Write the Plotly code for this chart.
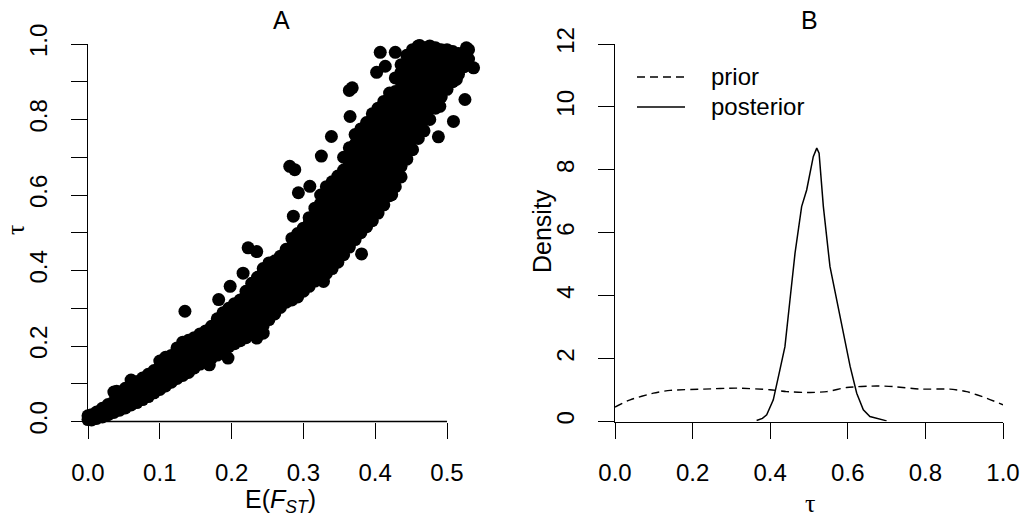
import plotly.graph_objects as go

# ---------------- Panel A: E(F_ST) vs tau ----------------
# dense band, grouped by E(F_ST) column
column_fst = [
    0.000, 0.005, 0.012, 0.020, 0.028, 0.036, 0.044, 0.052, 0.060, 0.068,
    0.076, 0.084, 0.092, 0.100, 0.108, 0.116, 0.124, 0.132, 0.140, 0.148,
    0.156, 0.164, 0.172, 0.180, 0.188, 0.196, 0.204, 0.212, 0.220, 0.228,
    0.236, 0.244, 0.252, 0.260, 0.268, 0.276, 0.284, 0.292, 0.300, 0.308,
    0.316, 0.324, 0.332, 0.340, 0.348, 0.356, 0.364, 0.372, 0.380, 0.388,
    0.396, 0.404, 0.412, 0.420, 0.428, 0.436, 0.444, 0.452, 0.460, 0.468,
    0.476, 0.484, 0.492, 0.500, 0.508, 0.516, 0.524, 0.530,
]
column_tau = [
    [0.005, 0.015],
    [0.004, 0.018],
    [0.008, 0.025],
    [0.012, 0.035],
    [0.018, 0.045],
    [0.024, 0.052, 0.078],
    [0.030, 0.060],
    [0.036, 0.066, 0.088],
    [0.044, 0.072, 0.100],
    [0.050, 0.080, 0.105],
    [0.058, 0.088, 0.115],
    [0.066, 0.095, 0.125],
    [0.076, 0.105, 0.135],
    [0.085, 0.115, 0.145, 0.160],
    [0.094, 0.122, 0.150, 0.170],
    [0.104, 0.132, 0.160, 0.175],
    [0.114, 0.142, 0.170, 0.195],
    [0.122, 0.150, 0.178, 0.210],
    [0.130, 0.158, 0.186, 0.215],
    [0.142, 0.170, 0.198, 0.222],
    [0.152, 0.180, 0.208, 0.232],
    [0.160, 0.188, 0.216, 0.240],
    [0.168, 0.196, 0.224, 0.252],
    [0.176, 0.204, 0.232, 0.260, 0.272],
    [0.186, 0.214, 0.242, 0.270, 0.288],
    [0.198, 0.226, 0.254, 0.282, 0.300],
    [0.206, 0.234, 0.262, 0.290, 0.312],
    [0.214, 0.242, 0.270, 0.298, 0.322],
    [0.222, 0.250, 0.278, 0.306, 0.334, 0.345],
    [0.232, 0.260, 0.288, 0.316, 0.344, 0.366],
    [0.242, 0.270, 0.298, 0.326, 0.354, 0.382],
    [0.254, 0.282, 0.310, 0.338, 0.366, 0.394, 0.405],
    [0.270, 0.298, 0.326, 0.354, 0.382, 0.410, 0.420],
    [0.285, 0.313, 0.341, 0.369, 0.397, 0.425],
    [0.302, 0.330, 0.358, 0.386, 0.414, 0.438],
    [0.316, 0.344, 0.372, 0.400, 0.428, 0.456],
    [0.322, 0.350, 0.378, 0.406, 0.434, 0.462, 0.485],
    [0.330, 0.358, 0.386, 0.414, 0.442, 0.470, 0.498],
    [0.345, 0.373, 0.401, 0.429, 0.457, 0.485, 0.512],
    [0.358, 0.386, 0.414, 0.442, 0.470, 0.498, 0.526, 0.540],
    [0.372, 0.400, 0.428, 0.456, 0.484, 0.512, 0.540, 0.565],
    [0.382, 0.410, 0.438, 0.466, 0.494, 0.522, 0.550, 0.578, 0.600],
    [0.392, 0.420, 0.448, 0.476, 0.504, 0.532, 0.560, 0.588, 0.622],
    [0.405, 0.433, 0.461, 0.489, 0.517, 0.545, 0.573, 0.601, 0.635],
    [0.422, 0.450, 0.478, 0.506, 0.534, 0.562, 0.590, 0.618, 0.650],
    [0.442, 0.470, 0.498, 0.526, 0.554, 0.582, 0.610, 0.638, 0.666, 0.700],
    [0.462, 0.490, 0.518, 0.546, 0.574, 0.602, 0.630, 0.658, 0.686, 0.725],
    [0.482, 0.510, 0.538, 0.566, 0.594, 0.622, 0.650, 0.678, 0.706, 0.734, 0.760],
    [0.500, 0.528, 0.556, 0.584, 0.612, 0.640, 0.668, 0.696, 0.724, 0.752, 0.775],
    [0.516, 0.544, 0.572, 0.600, 0.628, 0.656, 0.684, 0.712, 0.740, 0.768, 0.792],
    [0.532, 0.560, 0.588, 0.616, 0.644, 0.672, 0.700, 0.728, 0.756, 0.784, 0.815],
    [0.552, 0.580, 0.608, 0.636, 0.664, 0.692, 0.720, 0.748, 0.776, 0.804, 0.830],
    [0.574, 0.602, 0.630, 0.658, 0.686, 0.714, 0.742, 0.770, 0.798, 0.826, 0.848],
    [0.598, 0.626, 0.654, 0.682, 0.710, 0.738, 0.766, 0.794, 0.822, 0.850, 0.870],
    [0.622, 0.650, 0.678, 0.706, 0.734, 0.762, 0.790, 0.818, 0.846, 0.874, 0.910],
    [0.648, 0.676, 0.704, 0.732, 0.760, 0.788, 0.816, 0.844, 0.872, 0.900, 0.925, 0.945],
    [0.695, 0.723, 0.751, 0.779, 0.807, 0.835, 0.863, 0.891, 0.919, 0.947, 0.970],
    [0.720, 0.748, 0.776, 0.804, 0.832, 0.860, 0.888, 0.916, 0.944, 0.972, 0.985],
    [0.750, 0.778, 0.806, 0.834, 0.862, 0.890, 0.918, 0.946, 0.974, 0.995],
    [0.770, 0.798, 0.826, 0.854, 0.882, 0.910, 0.938, 0.966, 0.990],
    [0.800, 0.828, 0.856, 0.884, 0.912, 0.940, 0.968, 0.995],
    [0.830, 0.858, 0.886, 0.914, 0.942, 0.970, 0.990],
    [0.860, 0.888, 0.916, 0.944, 0.972, 0.985],
    [0.880, 0.908, 0.936, 0.964, 0.985],
    [0.900, 0.928, 0.956, 0.980],
    [0.920, 0.950, 0.975],
    [0.940, 0.975],
    [0.960, 0.985],
]
# scattered outlying points
outlier_fst = [
    0.040, 0.060, 0.135, 0.169, 0.182, 0.195, 0.186, 0.198, 0.216, 0.223,
    0.235, 0.235, 0.244, 0.281, 0.288, 0.286, 0.293, 0.309, 0.325, 0.339,
    0.328, 0.364, 0.368, 0.365, 0.381, 0.386, 0.407, 0.402, 0.414, 0.411,
    0.423, 0.428, 0.488, 0.490, 0.509, 0.513, 0.525, 0.527, 0.537, 0.462,
]
outlier_tau = [
    0.080, 0.110, 0.292, 0.150, 0.323, 0.168, 0.183, 0.358, 0.393, 0.460,
    0.450, 0.221, 0.234, 0.676, 0.667, 0.544, 0.606, 0.623, 0.703, 0.755,
    0.371, 0.877, 0.884, 0.808, 0.444, 0.526, 0.978, 0.925, 0.941, 0.588,
    0.601, 0.978, 0.754, 0.835, 0.795, 0.906, 0.853, 0.990, 0.937, 0.996,
]

# ---------------- Panel B: prior / posterior density of tau ----------------
prior_tau = [0.000, 0.039, 0.099, 0.142, 0.228, 0.314, 0.399, 0.442, 0.503,
             0.546, 0.597, 0.674, 0.717, 0.786, 0.863, 0.906, 0.958, 1.000]
prior_density = [0.46, 0.69, 0.90, 0.99, 1.03, 1.06, 1.01, 0.95, 0.92,
                 0.95, 1.08, 1.13, 1.11, 1.03, 1.03, 0.95, 0.74, 0.53]

post_tau = [0.365, 0.380, 0.391, 0.408, 0.425, 0.438, 0.451, 0.464, 0.481, 0.494,
            0.511, 0.520, 0.526, 0.537, 0.554, 0.571, 0.588, 0.606, 0.623, 0.640,
            0.657, 0.683, 0.700]
post_density = [0.03, 0.10, 0.21, 0.69, 1.64, 2.38, 3.87, 5.35, 6.83, 7.36,
                8.42, 8.69, 8.53, 6.83, 4.93, 3.87, 2.81, 1.75, 0.90, 0.37,
                0.16, 0.07, 0.02]

# tick definitions
a_x_ticks = [0.0, 0.1, 0.2, 0.3, 0.4, 0.5]
a_x_labels = ["0.0", "0.1", "0.2", "0.3", "0.4", "0.5"]
a_y_ticks = [0.0, 0.2, 0.4, 0.6, 0.8, 1.0]
a_y_labels = ["0.0", "0.2", "0.4", "0.6", "0.8", "1.0"]
a_y_minor = [0.1, 0.3, 0.5, 0.7, 0.9]
b_x_ticks = [0.0, 0.2, 0.4, 0.6, 0.8, 1.0]
b_x_labels = ["0.0", "0.2", "0.4", "0.6", "0.8", "1.0"]
b_y_ticks = [0, 2, 4, 6, 8, 10, 12]
b_y_labels = ["0", "2", "4", "6", "8", "10", "12"]

# flatten the band columns
fst_values = []
tau_values = []
for fx, ys in zip(column_fst, column_tau):
    for ty in ys:
        fst_values.append(fx)
        tau_values.append(ty)
fst_values += outlier_fst
tau_values += outlier_tau

W, H = 1023, 518
SANS = "Liberation Sans, Arial, sans-serif"
SERIF = "Liberation Serif, Times New Roman, serif"
TICK_FONT = dict(family=SANS, size=24, color="black")

fig = go.Figure()

fig.add_trace(go.Scatter(
    x=fst_values, y=tau_values, mode="markers",
    marker=dict(color="black", size=13, line=dict(width=0)),
    cliponaxis=False, showlegend=False, xaxis="x", yaxis="y",
))

fig.add_trace(go.Scatter(
    x=prior_tau, y=prior_density, mode="lines", name="prior",
    line=dict(color="black", width=1.4, dash="8px,5px", shape="spline", smoothing=0.6),
    showlegend=False, xaxis="x2", yaxis="y2",
))
fig.add_trace(go.Scatter(
    x=post_tau, y=post_density, mode="lines", name="posterior",
    line=dict(color="black", width=1.5),
    showlegend=False, xaxis="x2", yaxis="y2",
))

def px_x(p):
    return p / W

def px_y(p):
    return 1 - p / H

Y0_PX, Y1_PX = 421.5, 44
y_dom = [px_y(Y0_PX), px_y(Y1_PX)]
A_X_MAX = 0.55                      # room for the points beyond 0.5
A_X_RIGHT_PX = 88 + A_X_MAX * (447 - 88) / 0.5

axis_common = dict(
    showgrid=False, zeroline=False, linecolor="black", linewidth=1.3,
    ticks="outside", ticklen=16, tickwidth=1.3, tickcolor="black",
    tickfont=TICK_FONT, tickmode="array", automargin=False,
)

fig.update_layout(
    template="none",
    width=W, height=H,
    margin=dict(l=0, r=0, t=0, b=0, pad=0, autoexpand=False),
    paper_bgcolor="white", plot_bgcolor="white",
    xaxis=dict(domain=[px_x(88), px_x(A_X_RIGHT_PX)], range=[0, A_X_MAX], anchor="y",
               showline=False,
               tickvals=a_x_ticks, ticktext=a_x_labels, ticklabelstandoff=14, **axis_common),
    yaxis=dict(domain=y_dom, range=[0, 1.0], anchor="x", showline=True,
               tickvals=a_y_ticks, ticktext=a_y_labels, tickangle=-90,
               ticklabelstandoff=14,
               minor=dict(tickvals=a_y_minor, ticks="outside", ticklen=16,
                          tickwidth=1.3, tickcolor="black", showgrid=False),
               **axis_common),
    xaxis2=dict(domain=[px_x(615), px_x(1003)], range=[0, 1], anchor="y2", showline=True,
                tickvals=b_x_ticks, ticktext=b_x_labels, ticklabelstandoff=14, **axis_common),
    yaxis2=dict(domain=y_dom, range=[0, 12], anchor="x2", showline=True,
                tickvals=b_y_ticks, ticktext=b_y_labels, tickangle=-90,
                ticklabelstandoff=14, **axis_common),
    showlegend=False,
)

# x axis line of panel A spans only the first to last tick (R style)
fig.add_shape(type="line", xref="x", yref="paper",
              x0=a_x_ticks[0], x1=a_x_ticks[-1], y0=px_y(Y0_PX), y1=px_y(Y0_PX),
              line=dict(color="black", width=1.3), layer="below")

ann = []
def add_text(text, x, y, size=25, family=SANS, angle=0, xanchor="center"):
    ann.append(dict(text=text, x=px_x(x), y=px_y(y), xref="paper", yref="paper",
                    showarrow=False, xanchor=xanchor, yanchor="middle", textangle=angle,
                    font=dict(family=family, size=size, color="black")))

add_text("A", 281, 20)
add_text("B", 809, 20)
add_text("E(<i>F</i><sub><i>ST</i></sub>)", 280, 501)
add_text("τ", 15, 230, size=26, family=SERIF, angle=-90)
add_text("Density", 542, 231, angle=-90)
add_text("τ", 810, 503, size=26, family=SERIF)
add_text("prior", 709, 76, size=24, xanchor="left")
add_text("posterior", 709, 106, size=24, xanchor="left")
fig.update_layout(annotations=ann)

# legend keys
fig.add_shape(type="line", xref="paper", yref="paper",
              x0=px_x(637), x1=px_x(685), y0=px_y(77), y1=px_y(77),
              line=dict(color="black", width=1.4, dash="8px,5px"))
fig.add_shape(type="line", xref="paper", yref="paper",
              x0=px_x(637), x1=px_x(685), y0=px_y(107), y1=px_y(107),
              line=dict(color="black", width=1.4))

fig.write_html("out.html")
